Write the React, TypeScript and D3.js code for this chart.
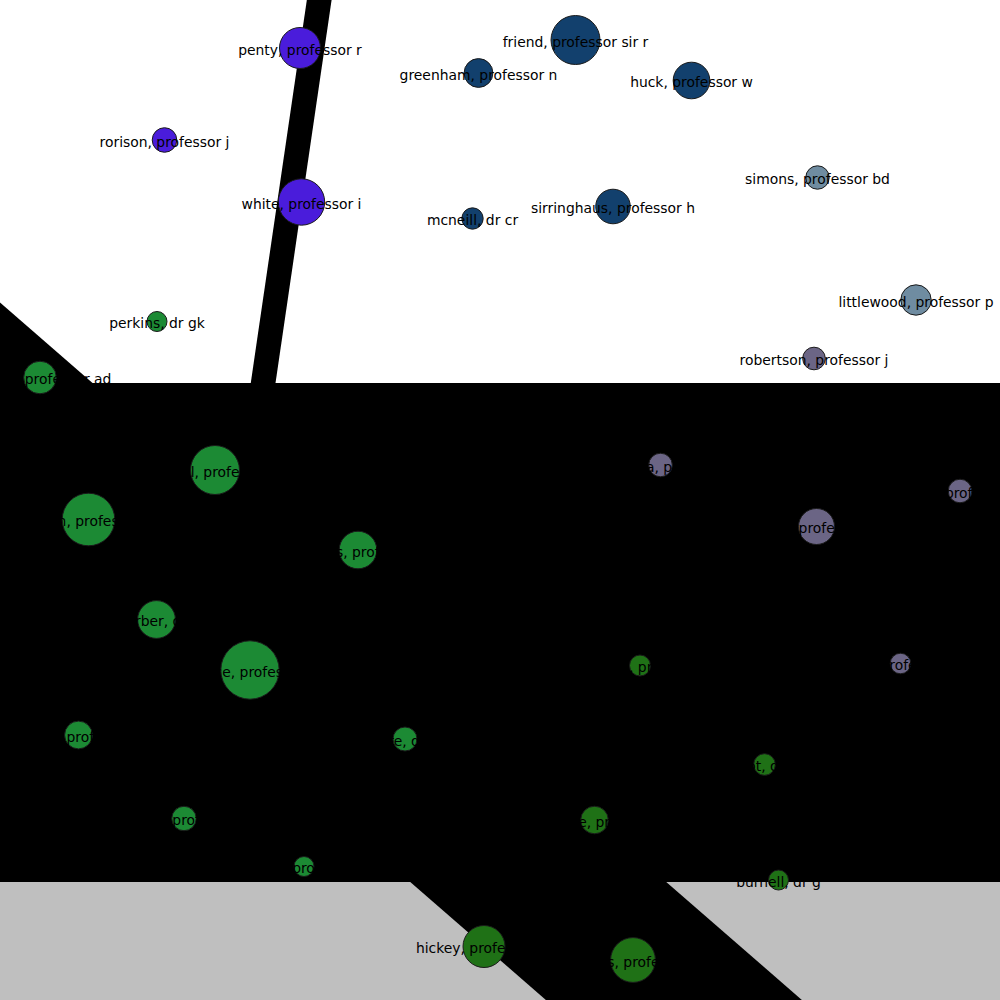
import * as d3 from 'd3'

// network layout (spring-layout style coords in [-1, 1])
const names = [
  'penty, professor r', 'rorison, professor j', 'white, professor i',
  'friend, professor sir r', 'greenham, professor n', 'huck, professor w', 'mcneill, dr cr', 'sirringhaus, professor h',
  'simons, professor bd', 'littlewood, professor p',
  'robertson, professor j', 'chhowalla, professor j', 'blamire, professor mg', 'greer, professor al', 'clyne, professor tw',
  'perkins, dr gk', 'donald, professor ad', 'mitchell, professor grj', 'gladden, professor lfm', 'williams, professor c',
  'barber, dr j', 'wallace, professor dj', 'jackson, professor sp', 'moore, dr tgk', 'johnson, professor ab', 'hopkins, professor ab',
  'robinson, professor j', 'elliot, dr sr', 'whitehouse, professor jm', 'burnell, dr g', 'edwards, professor pp', 'hickey, professor m',
]
const nodeX = [
  -0.400, -0.671, -0.397,
  0.151, -0.043, 0.383, -0.055, 0.226,
  0.635, 0.832,
  0.628, 0.321, 0.920, 0.633, 0.801,
  -0.686, -0.920, -0.570, -0.823, -0.284,
  -0.687, -0.500, -0.843, -0.190, -0.632, -0.392,
  0.280, 0.529, 0.189, 0.557, 0.266, -0.032,
]
const nodeY = [
  0.904, 0.720, 0.596,
  0.920, 0.854, 0.839, 0.563, 0.587,
  0.645, 0.400,
  0.283, 0.070, 0.018, -0.053, -0.327,
  0.357, 0.245, 0.060, -0.039, -0.100,
  -0.239, -0.340, -0.470, -0.478, -0.637, -0.733,
  -0.331, -0.529, -0.640, -0.760, -0.920, -0.893,
]
const nodeWeight = [
  420, 151, 538,
  600, 207, 335, 114, 299,
  137, 231,
  128, 139, 139, 324, 106,
  100, 266, 600, 692, 353,
  357, 853, 193, 144, 149, 100,
  110, 117, 190, 100, 502, 441,
]
const nodeGroup = [
  0, 0, 0,
  1, 1, 1, 1, 1,
  2, 2,
  3, 3, 3, 3, 3,
  4, 4, 4, 4, 4,
  4, 4, 4, 4, 4, 4,
  5, 5, 5, 5, 5, 5,
]
const groupColors = ['#4a1cdb', '#12406d', '#6f8ca1', '#6b6585', '#1c8a34', '#1f7116']

// edges: endpoints, width (layout units), colour
const edgeX1 = [-1.2, -1.2, -0.344, -1.32]
const edgeY1 = [-0.92, -0.265, 1.12, 0.4506]
const edgeX2 = [1.2, 1.2, -0.508, 0.68]
const edgeY2 = [-0.92, -0.265, 0.0, -1.289]
const edgeWidth = [0.312, 0.998, 0.049, 0.336]
const edgeColors = ['#bfbfbf', '#000000', '#000000', '#000000']

const W = 1000
const H = 1000

export default function App() {
  const x = d3.scaleLinear().domain([-1, 1]).range([0, W])
  const y = d3.scaleLinear().domain([-1, 1]).range([H, 0])
  const w = d3.scaleLinear().domain([0, 1]).range([0, W / 2])
  const r = d3.scaleSqrt().domain([0, 900]).range([0, 30])
  const line = d3.line<[number, number]>().x(d => x(d[0])).y(d => y(d[1]))

  return (
    <svg width={W} height={H} style={{ position: 'absolute', left: 0, top: 0, background: '#fff' }}>
      <g>
        {edgeX1.map((_, i) => (
          <path key={i}
            d={line([[edgeX1[i], edgeY1[i]], [edgeX2[i], edgeY2[i]]]) || ''}
            stroke={edgeColors[i]} strokeWidth={w(edgeWidth[i])} fill="none" strokeLinecap="butt" />
        ))}
      </g>
      <g>
        {names.map((n, i) => (
          <circle key={n} cx={x(nodeX[i])} cy={y(nodeY[i])} r={r(nodeWeight[i])}
            fill={groupColors[nodeGroup[i]]} stroke="#1a1a1a" strokeWidth={1} />
        ))}
      </g>
      <g fontFamily="DejaVu Sans" fontSize={13.9} textAnchor="middle" fill="#000">
        {names.map((n, i) => (
          <text key={n} x={x(nodeX[i])} y={y(nodeY[i])} dy={6.8}>{n}</text>
        ))}
      </g>
    </svg>
  )
}
